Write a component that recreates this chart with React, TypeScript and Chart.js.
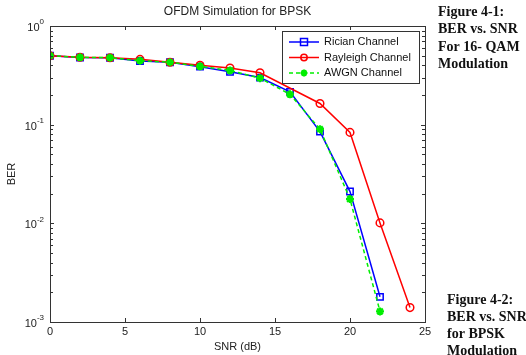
import React, { useEffect, useRef } from "react";
import { Chart, registerables } from "chart.js";

Chart.register(...registerables);

const ricianSNR = [0, 2, 4, 6, 8, 10, 12, 14, 16, 18, 20, 22];
const ricianBER = [0.5, 0.48, 0.477, 0.442, 0.429, 0.387, 0.344, 0.3, 0.215, 0.085, 0.021, 0.0018];
const rayleighSNR = [0, 2, 4, 6, 8, 10, 12, 14, 18, 20, 22, 24];
const rayleighBER = [0.5, 0.482, 0.477, 0.459, 0.429, 0.4, 0.375, 0.336, 0.164, 0.0835, 0.0101, 0.0014];
const awgnSNR = [0, 2, 4, 6, 8, 10, 12, 14, 16, 18, 20, 22];
const awgnBER = [0.5, 0.482, 0.477, 0.445, 0.429, 0.39, 0.355, 0.296, 0.203, 0.09, 0.0176, 0.00128];

const seriesNames = ["Rician Channel", "Rayleigh Channel", "AWGN Channel"];
const xTicks = [0, 5, 10, 15, 20, 25];
const yDecades = [0, -1, -2, -3];
const titleText = "OFDM Simulation for BPSK";
const xLabel = "SNR (dB)";
const yLabel = "BER";
const note1 = ["Figure 4-1:", "BER vs. SNR", "For 16- QAM", "Modulation"];
const note2 = ["Figure 4-2:", "BER vs. SNR", "for BPSK", "Modulation"];

const SANS = "'Liberation Sans', Arial, sans-serif";
const SERIF = "'Liberation Serif', 'Times New Roman', serif";

const toPts = (xs: number[], ys: number[]) => xs.map((x, i) => ({ x, y: ys[i] }));

const drawStar = (ctx: CanvasRenderingContext2D, cx: number, cy: number, r: number) => {
  ctx.beginPath();
  for (let k = 0; k < 4; k++) {
    const a = (k * Math.PI) / 4;
    ctx.moveTo(cx - r * Math.cos(a), cy - r * Math.sin(a));
    ctx.lineTo(cx + r * Math.cos(a), cy + r * Math.sin(a));
  }
  ctx.stroke();
};

const decorPlugin = {
  id: "decor",
  beforeDatasetsDraw(chart: any) {
    const { ctx, chartArea: ca } = chart;
    ctx.save();
    ctx.fillStyle = "#fff";
    ctx.fillRect(ca.left, ca.top, ca.right - ca.left, ca.bottom - ca.top);
    ctx.restore();
  },
  afterDatasetsDraw(chart: any) {
    const { ctx, chartArea: ca } = chart;
    const xs = chart.scales.x;
    const ys = chart.scales.y;
    ctx.save();
    // box
    ctx.strokeStyle = "#333";
    ctx.lineWidth = 1;
    ctx.strokeRect(Math.round(ca.left) + 0.5, Math.round(ca.top) + 0.5, Math.round(ca.right - ca.left), Math.round(ca.bottom - ca.top));
    ctx.beginPath();
    xTicks.forEach((v) => {
      const px = Math.round(xs.getPixelForValue(v)) + 0.5;
      ctx.moveTo(px, ca.bottom);
      ctx.lineTo(px, ca.bottom - 4);
      ctx.moveTo(px, ca.top);
      ctx.lineTo(px, ca.top + 4);
    });
    for (let d = -3; d <= 0; d++) {
      for (let m = 1; m <= 9; m++) {
        const v = m * Math.pow(10, d);
        if (v > 1.0000001) continue;
        const py = Math.round(ys.getPixelForValue(v)) + 0.5;
        const len = m === 1 ? 4 : 3;
        ctx.moveTo(ca.left, py);
        ctx.lineTo(ca.left + len, py);
        ctx.moveTo(ca.right, py);
        ctx.lineTo(ca.right - len, py);
      }
    }
    ctx.stroke();
    // x tick labels
    ctx.fillStyle = "#222";
    ctx.font = `11px ${SANS}`;
    ctx.textAlign = "center";
    ctx.textBaseline = "top";
    xTicks.forEach((v) => {
      ctx.fillText(String(v), xs.getPixelForValue(v), ca.bottom + 4);
    });
    // y tick labels
    yDecades.forEach((d) => {
      const py = ys.getPixelForValue(Math.pow(10, d));
      const exp = String(d);
      ctx.font = `8px ${SANS}`;
      const ew = ctx.measureText(exp).width;
      ctx.font = `11px ${SANS}`;
      ctx.textAlign = "right";
      ctx.textBaseline = "middle";
      const baseX = ca.left - 6 - ew;
      ctx.fillText("10", baseX, py + 2);
      ctx.font = `8px ${SANS}`;
      ctx.textAlign = "left";
      ctx.fillText(exp, baseX, py - 4);
    });
    // title
    ctx.font = `12px ${SANS}`;
    ctx.textAlign = "center";
    ctx.textBaseline = "middle";
    ctx.fillText(titleText, (ca.left + ca.right) / 2, 12);
    // axis labels
    ctx.font = `11px ${SANS}`;
    ctx.fillText(xLabel, (ca.left + ca.right) / 2, 347);
    ctx.save();
    ctx.translate(12, (ca.top + ca.bottom) / 2);
    ctx.rotate(-Math.PI / 2);
    ctx.fillText(yLabel, 0, 0);
    ctx.restore();
    // legend
    const lx = 282, ly = 31, lw = 137, lh = 52;
    ctx.fillStyle = "#fff";
    ctx.fillRect(lx, ly, lw, lh);
    ctx.strokeStyle = "#333";
    ctx.strokeRect(lx + 0.5, ly + 0.5, lw, lh);
    chart.data.datasets.forEach((ds: any, i: number) => {
      const ey = ly + 11 + i * 15.5;
      const cx = lx + 22;
      ctx.save();
      ctx.strokeStyle = ds.borderColor;
      ctx.lineWidth = ds.borderWidth;
      ctx.setLineDash(ds.borderDash || []);
      ctx.beginPath();
      ctx.moveTo(lx + 7, ey);
      ctx.lineTo(lx + 37, ey);
      ctx.stroke();
      ctx.setLineDash([]);
      ctx.strokeStyle = ds.pointBorderColor;
      ctx.lineWidth = ds.pointBorderWidth;
      ctx.beginPath();
      if (ds.pointStyle === "rect") {
        ctx.rect(cx - 3.5, ey - 3.5, 7, 7);
        ctx.stroke();
      } else if (ds.pointStyle === "circle") {
        ctx.arc(cx, ey, 3.2, 0, Math.PI * 2);
        ctx.stroke();
      } else {
        drawStar(ctx, cx, ey, 3.5);
      }
      ctx.restore();
      ctx.fillStyle = "#111";
      ctx.font = `11px ${SANS}`;
      ctx.textAlign = "left";
      ctx.textBaseline = "middle";
      ctx.fillText(ds.label, lx + 42, ey);
    });
    // side notes
    ctx.fillStyle = "#111";
    ctx.font = `bold 14px ${SERIF}`;
    ctx.textAlign = "left";
    ctx.textBaseline = "middle";
    note1.forEach((t, i) => ctx.fillText(t, 438, 12 + i * 17.5));
    note2.forEach((t, i) => ctx.fillText(t, 447, 300 + i * 17));
    ctx.restore();
  },
};

export default function App() {
  const ref = useRef<HTMLCanvasElement | null>(null);
  useEffect(() => {
    document.body.style.margin = "0";
    const canvas = ref.current!;
    const chart = new Chart(canvas, {
      type: "line",
      data: {
        datasets: [
          {
            label: seriesNames[0],
            data: toPts(ricianSNR, ricianBER),
            borderColor: "#0000ff",
            backgroundColor: "#0000ff",
            borderWidth: 1.5,
            pointStyle: "rect",
            pointRadius: 4.5,
            pointBorderWidth: 1.5,
            pointBorderColor: "#0000ff",
            pointBackgroundColor: "rgba(0,0,0,0)",
            order: 3,
          },
          {
            label: seriesNames[1],
            data: toPts(rayleighSNR, rayleighBER),
            borderColor: "#ff0000",
            backgroundColor: "#ff0000",
            borderWidth: 1.5,
            pointStyle: "circle",
            pointRadius: 3.8,
            pointBorderWidth: 1.5,
            pointBorderColor: "#ff0000",
            pointBackgroundColor: "rgba(0,0,0,0)",
            order: 2,
          },
          {
            label: seriesNames[2],
            data: toPts(awgnSNR, awgnBER),
            borderColor: "#00ee00",
            backgroundColor: "#00ee00",
            borderWidth: 1.5,
            borderDash: [4, 3],
            pointStyle: "star",
            pointRadius: 4,
            pointBorderWidth: 2.2,
            pointBorderColor: "#00ee00",
            pointBackgroundColor: "#00ee00",
            order: 1,
          },
        ],
      },
      options: {
        animation: false,
        responsive: false,
        maintainAspectRatio: false,
        devicePixelRatio: 1,
        layout: { padding: { left: 50, right: 101, top: 26, bottom: 33 } },
        plugins: { legend: { display: false }, title: { display: false }, tooltip: { enabled: false } },
        scales: {
          x: { type: "linear", min: 0, max: 25, display: false },
          y: { type: "logarithmic", min: 0.001, max: 1, display: false },
        },
      },
      plugins: [decorPlugin],
    });
    return () => chart.destroy();
  }, []);
  return (
    <div style={{ position: "absolute", left: 0, top: 0, width: 526, height: 355, background: "#fff" }}>
      <canvas ref={ref} width={526} height={355} style={{ width: 526, height: 355, display: "block" }} />
    </div>
  );
}
